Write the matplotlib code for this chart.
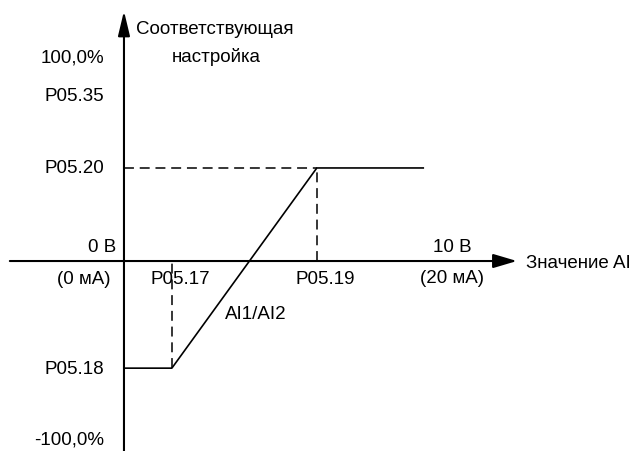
#!/usr/bin/env python3
"""Characteristic curve AI1/AI2: analog input value -> corresponding setting."""

import matplotlib
matplotlib.use("Agg")
import matplotlib.pyplot as plt

plt.rcParams["font.family"] = ["Liberation Sans", "DejaVu Sans"]

# ----------------------------------------------------------------------
# Data (x in volts 0..10, y in percent of setting)
# ----------------------------------------------------------------------
curve_x = [0.0, 1.46, 5.88, 9.15]          # 0 V, P05.17, P05.19, end of plateau
curve_y = [-52.5, -52.5, 45.6, 45.6]       # P05.18, P05.18, P05.20, P05.20

knee_x = [1.46, 5.88]                      # P05.17, P05.19
knee_y = [-52.5, 45.6]                     # P05.18, P05.20
knee_x_labels = ["P05.17", "P05.19"]

y_labels = ["100,0%", "P05.35", "P05.20", "P05.18", "-100,0%"]
y_label_pos = [100.0, 81.0, 45.6, -52.5, -87.0]

x_axis_range = [-3.48, 11.98]
y_axis_range = [-95.0, 122.5]

FS = 13.5


def main() -> None:
    fig = plt.figure(figsize=(6.33, 4.52), dpi=100)
    ax = fig.add_axes([0, 0, 1, 1])
    ax.set_xlim(-3.78, 15.52)
    ax.set_ylim(-93.1, 128.4)
    ax.axis("off")

    # axes with arrows
    ax.annotate("", xy=(x_axis_range[1], 0), xytext=(x_axis_range[0], 0),
                arrowprops=dict(arrowstyle="-|>,head_length=1.45,head_width=0.43",
                                lw=1.5, color="black", shrinkA=0, shrinkB=0))
    ax.annotate("", xy=(0, y_axis_range[1]), xytext=(0, y_axis_range[0]),
                arrowprops=dict(arrowstyle="-|>,head_length=1.5,head_width=0.36",
                                lw=1.5, color="black", shrinkA=0, shrinkB=0))

    # characteristic curve
    ax.plot(curve_x, curve_y, color="black", lw=1.2, solid_capstyle="butt")

    # dashed guides
    dash = dict(color="black", lw=1.1, dashes=(6.5, 3.8))
    ax.plot([0, knee_x[1]], [knee_y[1], knee_y[1]], **dash)
    ax.plot([knee_x[1], knee_x[1]], [0, knee_y[1]], **dash)
    ax.plot([knee_x[0], knee_x[0]], [knee_y[0], 0], **dash)

    # y-side labels
    for lab, yp in zip(y_labels, y_label_pos):
        ax.text(-0.6, yp, lab, ha="right", va="center", fontsize=FS)

    ax.text(-0.25, 7.0, "0 В", ha="right", va="center", fontsize=FS)
    ax.text(-0.4, -8.8, "(0 мА)", ha="right", va="center", fontsize=FS)

    for lab, xp in zip(knee_x_labels, knee_x):
        ax.text(xp + 0.25, -8.8, lab, ha="center", va="center", fontsize=FS)

    ax.text(10.0, 7.0, "10 В", ha="center", va="center", fontsize=FS)
    ax.text(10.0, -8.0, "(20 мА)", ha="center", va="center", fontsize=FS)
    ax.text(12.25, -0.5, "Значение AI", ha="left", va="center", fontsize=FS)

    ax.text(4.03, -25.7, "AI1/AI2", ha="center", va="center", fontsize=FS)

    ax.text(0.38, 114.0, "Соответствующая", ha="left", va="center", fontsize=FS)
    ax.text(2.8, 100.5, "настройка", ha="center", va="center", fontsize=FS)

    fig.savefig("out.png", dpi=100, facecolor="white")


if __name__ == "__main__":
    main()
